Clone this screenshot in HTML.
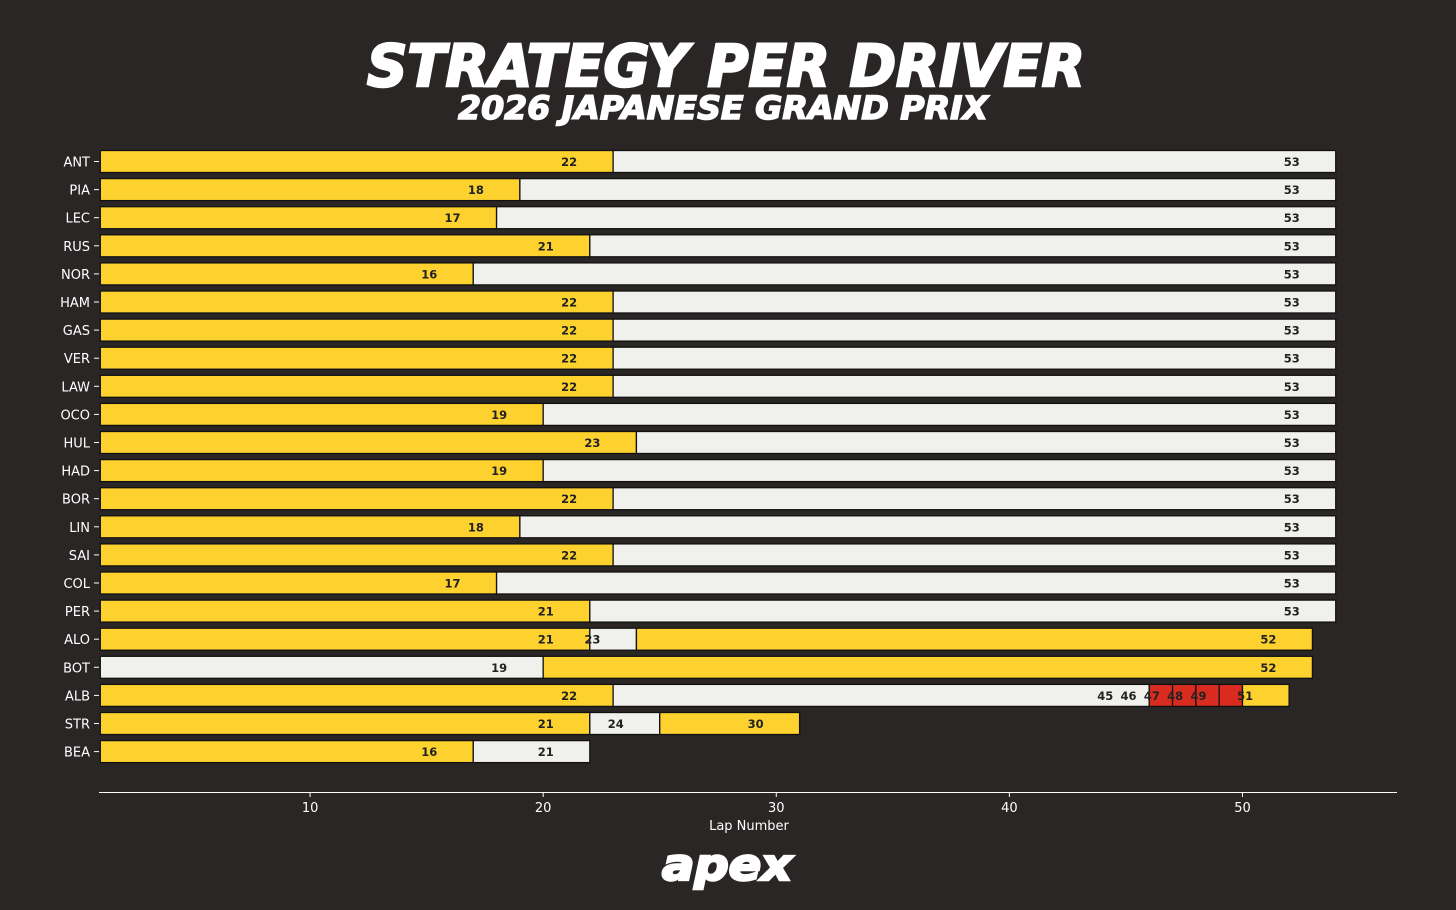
<!DOCTYPE html>
<html><head><meta charset="utf-8"><style>
html,body{margin:0;padding:0;background:#2a2625;}
svg{display:block;}
</style></head><body>
<svg id="chart" width="1456" height="910" viewBox="0 0 1456 910" xmlns="http://www.w3.org/2000/svg">
<rect width="1456" height="910" fill="#2a2625"/>
<text x="726" y="86" text-anchor="middle" font-family="'DejaVu Sans', sans-serif" font-weight="bold" font-style="italic" font-size="58" fill="#fff" stroke="#fff" stroke-width="2.5" textLength="718" lengthAdjust="spacingAndGlyphs">STRATEGY PER DRIVER</text>
<text x="723" y="119" text-anchor="middle" font-family="'DejaVu Sans', sans-serif" font-weight="bold" font-style="italic" font-size="32" fill="#fff" stroke="#fff" stroke-width="1.5" textLength="530" lengthAdjust="spacingAndGlyphs">2026 JAPANESE GRAND PRIX</text>
<g id="bars"></g>
<g id="axis"></g>
<text x="727" y="880" text-anchor="middle" font-family="'DejaVu Sans', sans-serif" font-weight="bold" font-style="italic" font-size="44" fill="#fff" stroke="#fff" stroke-width="2.5" textLength="130" lengthAdjust="spacingAndGlyphs">apex</text>
</svg>
<script>
const drivers = ["ANT","PIA","LEC","RUS","NOR","HAM","GAS","VER","LAW","OCO","HUL","HAD","BOR","LIN","SAI","COL","PER","ALO","BOT","ALB","STR","BEA"];
const stintEnds = [[22,53],[18,53],[17,53],[21,53],[16,53],[22,53],[22,53],[22,53],[22,53],[19,53],[23,53],[19,53],[22,53],[18,53],[22,53],[17,53],[21,53],[21,23,52],[19,52],[22,45,46,47,48,49,51],[21,24,30],[16,21]];
const compounds = [["M","H"],["M","H"],["M","H"],["M","H"],["M","H"],["M","H"],["M","H"],["M","H"],["M","H"],["M","H"],["M","H"],["M","H"],["M","H"],["M","H"],["M","H"],["M","H"],["M","H"],["M","H","M"],["H","M"],["M","H","I","I","I","I","M"],["M","H","M"],["M","H"]];
const xTicks = [10,20,30,40,50];
const colors = {M:"#fdd22e",H:"#f0f0ec",I:"#d92b1f"};
const NS="http://www.w3.org/2000/svg";
function x(l){return 100.3+(l-1)*23.31;}
function y(i){return 161.5+i*28.1;}
const bars=document.getElementById('bars');
function mk(t,a,p){const e=document.createElementNS(NS,t);for(const k in a)e.setAttribute(k,a[k]);p.appendChild(e);return e;}
drivers.forEach((d,i)=>{
  const lab=mk('text',{x:90,y:y(i)+5,'text-anchor':'end','font-family':"'DejaVu Sans',sans-serif",'font-size':13,fill:'#fff'},bars);
  lab.textContent=d;
  
  
  const tk=mk('line',{x1:94,x2:99,y1:y(i),y2:y(i),stroke:'#fff'},bars);
  
  
  let prev=0;
  stintEnds[i].forEach((e,j)=>{
    const r=mk('rect',{x:x(prev+1),y:y(i)-11,width:x(e+1)-x(prev+1),height:22,fill:colors[compounds[i][j]],stroke:'#111','stroke-width':1.3},bars);
    
    
    prev=e;
  });
  stintEnds[i].forEach((e)=>{
    const t=mk('text',{x:x(e+1)-44,y:y(i)+4.5,'text-anchor':'middle','font-family':"'DejaVu Sans',sans-serif",'font-size':11.5,'font-weight':'bold',fill:'#222'},bars);
    t.textContent=e;
    
    
  });
});
const ax=document.getElementById('axis');
const al=mk('line',{x1:99,x2:1397,y1:792.5,y2:792.5,stroke:'#fff','stroke-width':1},ax);


xTicks.forEach(v=>{
  const l=mk('line',{x1:x(v),x2:x(v),y1:792,y2:797,stroke:'#fff'},ax);
  
  
  const t=mk('text',{x:x(v),y:812,'text-anchor':'middle','font-family':"'DejaVu Sans',sans-serif",'font-size':13,fill:'#fff'},ax);
  t.textContent=v;
  
  
});
const xt=mk('text',{x:749,y:830,'text-anchor':'middle','font-family':"'DejaVu Sans',sans-serif",'font-size':13,fill:'#fff'},ax);
xt.textContent='Lap Number';


</script>
</body></html>
